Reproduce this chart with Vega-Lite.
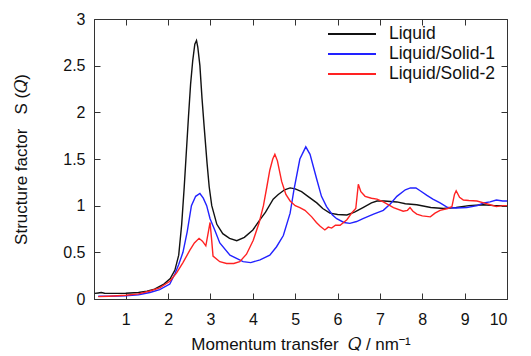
{
  "$schema": "https://vega.github.io/schema/vega-lite/v6.json",
  "width": 413,
  "height": 280,
  "autosize": "none",
  "padding": {"left": 94, "top": 19, "right": 24, "bottom": 57},
  "background": "white",
  "config": {
    "font": "Liberation Sans",
    "view": {"stroke": "#333333", "strokeWidth": 1},
    "axis": {
      "grid": false,
      "domainColor": "#333333",
      "tickColor": "#333333",
      "tickSize": -6,
      "labelFontSize": 16,
      "labelColor": "#111111",
      "titleFontSize": 17,
      "titleFontWeight": "normal",
      "titleColor": "#111111"
    }
  },
  "data": {
    "values": [
      {"series": "Liquid", "Q": 0.27, "S": 0.06},
      {"series": "Liquid", "Q": 0.35, "S": 0.065},
      {"series": "Liquid", "Q": 0.42, "S": 0.07},
      {"series": "Liquid", "Q": 0.5, "S": 0.062},
      {"series": "Liquid", "Q": 0.7, "S": 0.06},
      {"series": "Liquid", "Q": 1.0, "S": 0.062},
      {"series": "Liquid", "Q": 1.3, "S": 0.07},
      {"series": "Liquid", "Q": 1.5, "S": 0.085},
      {"series": "Liquid", "Q": 1.68, "S": 0.105},
      {"series": "Liquid", "Q": 1.9, "S": 0.16},
      {"series": "Liquid", "Q": 2.05, "S": 0.22},
      {"series": "Liquid", "Q": 2.16, "S": 0.31},
      {"series": "Liquid", "Q": 2.25, "S": 0.47},
      {"series": "Liquid", "Q": 2.32, "S": 0.8},
      {"series": "Liquid", "Q": 2.38, "S": 1.2},
      {"series": "Liquid", "Q": 2.42, "S": 1.5},
      {"series": "Liquid", "Q": 2.48, "S": 1.95},
      {"series": "Liquid", "Q": 2.53, "S": 2.3},
      {"series": "Liquid", "Q": 2.58, "S": 2.55},
      {"series": "Liquid", "Q": 2.63, "S": 2.73},
      {"series": "Liquid", "Q": 2.67, "S": 2.77},
      {"series": "Liquid", "Q": 2.7, "S": 2.7},
      {"series": "Liquid", "Q": 2.75, "S": 2.5},
      {"series": "Liquid", "Q": 2.8, "S": 2.15},
      {"series": "Liquid", "Q": 2.85, "S": 1.85},
      {"series": "Liquid", "Q": 2.92, "S": 1.45},
      {"series": "Liquid", "Q": 2.97, "S": 1.2},
      {"series": "Liquid", "Q": 3.03, "S": 1.0},
      {"series": "Liquid", "Q": 3.15, "S": 0.8},
      {"series": "Liquid", "Q": 3.29, "S": 0.7},
      {"series": "Liquid", "Q": 3.45, "S": 0.65},
      {"series": "Liquid", "Q": 3.62, "S": 0.625},
      {"series": "Liquid", "Q": 3.8, "S": 0.66},
      {"series": "Liquid", "Q": 4.0, "S": 0.74},
      {"series": "Liquid", "Q": 4.17, "S": 0.85},
      {"series": "Liquid", "Q": 4.3, "S": 0.93},
      {"series": "Liquid", "Q": 4.48, "S": 1.07},
      {"series": "Liquid", "Q": 4.6, "S": 1.12},
      {"series": "Liquid", "Q": 4.75, "S": 1.17},
      {"series": "Liquid", "Q": 4.88, "S": 1.19},
      {"series": "Liquid", "Q": 5.0, "S": 1.18},
      {"series": "Liquid", "Q": 5.15, "S": 1.15},
      {"series": "Liquid", "Q": 5.3, "S": 1.1},
      {"series": "Liquid", "Q": 5.51, "S": 1.03},
      {"series": "Liquid", "Q": 5.65, "S": 0.97},
      {"series": "Liquid", "Q": 5.82, "S": 0.92},
      {"series": "Liquid", "Q": 6.0, "S": 0.905},
      {"series": "Liquid", "Q": 6.22, "S": 0.9},
      {"series": "Liquid", "Q": 6.4, "S": 0.93},
      {"series": "Liquid", "Q": 6.6, "S": 0.98},
      {"series": "Liquid", "Q": 6.8, "S": 1.03},
      {"series": "Liquid", "Q": 6.93, "S": 1.05},
      {"series": "Liquid", "Q": 7.1, "S": 1.05},
      {"series": "Liquid", "Q": 7.4, "S": 1.04},
      {"series": "Liquid", "Q": 7.6, "S": 1.02},
      {"series": "Liquid", "Q": 7.87, "S": 1.01},
      {"series": "Liquid", "Q": 8.2, "S": 0.98},
      {"series": "Liquid", "Q": 8.5, "S": 0.97},
      {"series": "Liquid", "Q": 8.8, "S": 0.98},
      {"series": "Liquid", "Q": 9.1, "S": 1.0},
      {"series": "Liquid", "Q": 9.44, "S": 1.01},
      {"series": "Liquid", "Q": 9.7, "S": 1.0},
      {"series": "Liquid", "Q": 10.0, "S": 1.0},

      {"series": "Liquid/Solid-1", "Q": 0.35, "S": 0.03},
      {"series": "Liquid/Solid-1", "Q": 0.6, "S": 0.03},
      {"series": "Liquid/Solid-1", "Q": 1.0, "S": 0.035},
      {"series": "Liquid/Solid-1", "Q": 1.3, "S": 0.045},
      {"series": "Liquid/Solid-1", "Q": 1.57, "S": 0.07},
      {"series": "Liquid/Solid-1", "Q": 1.8, "S": 0.1},
      {"series": "Liquid/Solid-1", "Q": 2.04, "S": 0.16},
      {"series": "Liquid/Solid-1", "Q": 2.16, "S": 0.27},
      {"series": "Liquid/Solid-1", "Q": 2.25, "S": 0.37},
      {"series": "Liquid/Solid-1", "Q": 2.35, "S": 0.5},
      {"series": "Liquid/Solid-1", "Q": 2.45, "S": 0.72},
      {"series": "Liquid/Solid-1", "Q": 2.55, "S": 1.0},
      {"series": "Liquid/Solid-1", "Q": 2.65, "S": 1.1},
      {"series": "Liquid/Solid-1", "Q": 2.75, "S": 1.13},
      {"series": "Liquid/Solid-1", "Q": 2.83, "S": 1.08},
      {"series": "Liquid/Solid-1", "Q": 2.91, "S": 1.0},
      {"series": "Liquid/Solid-1", "Q": 2.99, "S": 0.86},
      {"series": "Liquid/Solid-1", "Q": 3.1, "S": 0.74},
      {"series": "Liquid/Solid-1", "Q": 3.22, "S": 0.6},
      {"series": "Liquid/Solid-1", "Q": 3.46, "S": 0.47},
      {"series": "Liquid/Solid-1", "Q": 3.77, "S": 0.4},
      {"series": "Liquid/Solid-1", "Q": 3.95, "S": 0.39},
      {"series": "Liquid/Solid-1", "Q": 4.17, "S": 0.42},
      {"series": "Liquid/Solid-1", "Q": 4.4, "S": 0.47},
      {"series": "Liquid/Solid-1", "Q": 4.56, "S": 0.56},
      {"series": "Liquid/Solid-1", "Q": 4.72, "S": 0.68},
      {"series": "Liquid/Solid-1", "Q": 4.88, "S": 0.92},
      {"series": "Liquid/Solid-1", "Q": 4.97, "S": 1.17},
      {"series": "Liquid/Solid-1", "Q": 5.11, "S": 1.5},
      {"series": "Liquid/Solid-1", "Q": 5.25, "S": 1.63},
      {"series": "Liquid/Solid-1", "Q": 5.35, "S": 1.55},
      {"series": "Liquid/Solid-1", "Q": 5.51, "S": 1.28},
      {"series": "Liquid/Solid-1", "Q": 5.62, "S": 1.1},
      {"series": "Liquid/Solid-1", "Q": 5.74, "S": 0.99},
      {"series": "Liquid/Solid-1", "Q": 5.88, "S": 0.9},
      {"series": "Liquid/Solid-1", "Q": 5.98, "S": 0.86},
      {"series": "Liquid/Solid-1", "Q": 6.15, "S": 0.82},
      {"series": "Liquid/Solid-1", "Q": 6.29, "S": 0.81},
      {"series": "Liquid/Solid-1", "Q": 6.45, "S": 0.83},
      {"series": "Liquid/Solid-1", "Q": 6.6, "S": 0.86},
      {"series": "Liquid/Solid-1", "Q": 6.85, "S": 0.91},
      {"series": "Liquid/Solid-1", "Q": 7.08, "S": 0.95},
      {"series": "Liquid/Solid-1", "Q": 7.25, "S": 1.02},
      {"series": "Liquid/Solid-1", "Q": 7.4, "S": 1.1},
      {"series": "Liquid/Solid-1", "Q": 7.6, "S": 1.17},
      {"series": "Liquid/Solid-1", "Q": 7.72, "S": 1.19},
      {"series": "Liquid/Solid-1", "Q": 7.85, "S": 1.19},
      {"series": "Liquid/Solid-1", "Q": 7.95, "S": 1.16},
      {"series": "Liquid/Solid-1", "Q": 8.11, "S": 1.11},
      {"series": "Liquid/Solid-1", "Q": 8.25, "S": 1.07},
      {"series": "Liquid/Solid-1", "Q": 8.42, "S": 1.03},
      {"series": "Liquid/Solid-1", "Q": 8.6, "S": 0.98},
      {"series": "Liquid/Solid-1", "Q": 8.8, "S": 0.975},
      {"series": "Liquid/Solid-1", "Q": 9.05, "S": 0.98},
      {"series": "Liquid/Solid-1", "Q": 9.3, "S": 1.0},
      {"series": "Liquid/Solid-1", "Q": 9.45, "S": 1.03},
      {"series": "Liquid/Solid-1", "Q": 9.6, "S": 1.04},
      {"series": "Liquid/Solid-1", "Q": 9.75, "S": 1.06},
      {"series": "Liquid/Solid-1", "Q": 9.9, "S": 1.05},
      {"series": "Liquid/Solid-1", "Q": 10.0, "S": 1.05},

      {"series": "Liquid/Solid-2", "Q": 0.35, "S": 0.025},
      {"series": "Liquid/Solid-2", "Q": 0.6, "S": 0.03},
      {"series": "Liquid/Solid-2", "Q": 1.0, "S": 0.04},
      {"series": "Liquid/Solid-2", "Q": 1.3, "S": 0.055},
      {"series": "Liquid/Solid-2", "Q": 1.57, "S": 0.086},
      {"series": "Liquid/Solid-2", "Q": 1.8, "S": 0.12},
      {"series": "Liquid/Solid-2", "Q": 2.04, "S": 0.19},
      {"series": "Liquid/Solid-2", "Q": 2.2, "S": 0.28},
      {"series": "Liquid/Solid-2", "Q": 2.35, "S": 0.39},
      {"series": "Liquid/Solid-2", "Q": 2.51, "S": 0.52},
      {"series": "Liquid/Solid-2", "Q": 2.62, "S": 0.6},
      {"series": "Liquid/Solid-2", "Q": 2.73, "S": 0.65},
      {"series": "Liquid/Solid-2", "Q": 2.81, "S": 0.62},
      {"series": "Liquid/Solid-2", "Q": 2.89, "S": 0.57},
      {"series": "Liquid/Solid-2", "Q": 2.95, "S": 0.72},
      {"series": "Liquid/Solid-2", "Q": 2.99, "S": 0.82},
      {"series": "Liquid/Solid-2", "Q": 3.03, "S": 0.62},
      {"series": "Liquid/Solid-2", "Q": 3.06, "S": 0.46},
      {"series": "Liquid/Solid-2", "Q": 3.22, "S": 0.4},
      {"series": "Liquid/Solid-2", "Q": 3.38, "S": 0.38},
      {"series": "Liquid/Solid-2", "Q": 3.55, "S": 0.38},
      {"series": "Liquid/Solid-2", "Q": 3.69, "S": 0.4},
      {"series": "Liquid/Solid-2", "Q": 3.85, "S": 0.48},
      {"series": "Liquid/Solid-2", "Q": 4.01, "S": 0.63},
      {"series": "Liquid/Solid-2", "Q": 4.15, "S": 0.82},
      {"series": "Liquid/Solid-2", "Q": 4.25, "S": 1.0},
      {"series": "Liquid/Solid-2", "Q": 4.33, "S": 1.2},
      {"series": "Liquid/Solid-2", "Q": 4.4, "S": 1.38},
      {"series": "Liquid/Solid-2", "Q": 4.47, "S": 1.5},
      {"series": "Liquid/Solid-2", "Q": 4.52, "S": 1.55},
      {"series": "Liquid/Solid-2", "Q": 4.58, "S": 1.48},
      {"series": "Liquid/Solid-2", "Q": 4.68, "S": 1.26},
      {"series": "Liquid/Solid-2", "Q": 4.78, "S": 1.12},
      {"series": "Liquid/Solid-2", "Q": 4.88, "S": 1.05},
      {"series": "Liquid/Solid-2", "Q": 5.0, "S": 1.0},
      {"series": "Liquid/Solid-2", "Q": 5.11, "S": 0.98},
      {"series": "Liquid/Solid-2", "Q": 5.23, "S": 0.95},
      {"series": "Liquid/Solid-2", "Q": 5.39, "S": 0.88},
      {"series": "Liquid/Solid-2", "Q": 5.5, "S": 0.82},
      {"series": "Liquid/Solid-2", "Q": 5.59, "S": 0.78},
      {"series": "Liquid/Solid-2", "Q": 5.7, "S": 0.74},
      {"series": "Liquid/Solid-2", "Q": 5.78, "S": 0.77},
      {"series": "Liquid/Solid-2", "Q": 5.86, "S": 0.76},
      {"series": "Liquid/Solid-2", "Q": 5.95, "S": 0.79},
      {"series": "Liquid/Solid-2", "Q": 6.06, "S": 0.79},
      {"series": "Liquid/Solid-2", "Q": 6.22, "S": 0.85},
      {"series": "Liquid/Solid-2", "Q": 6.35, "S": 0.93},
      {"series": "Liquid/Solid-2", "Q": 6.43, "S": 0.97},
      {"series": "Liquid/Solid-2", "Q": 6.49, "S": 1.23},
      {"series": "Liquid/Solid-2", "Q": 6.55, "S": 1.15},
      {"series": "Liquid/Solid-2", "Q": 6.65, "S": 1.1},
      {"series": "Liquid/Solid-2", "Q": 6.8, "S": 1.08},
      {"series": "Liquid/Solid-2", "Q": 6.93, "S": 1.07},
      {"series": "Liquid/Solid-2", "Q": 7.08, "S": 1.04},
      {"series": "Liquid/Solid-2", "Q": 7.32, "S": 0.98},
      {"series": "Liquid/Solid-2", "Q": 7.55, "S": 0.94},
      {"series": "Liquid/Solid-2", "Q": 7.65, "S": 0.95},
      {"series": "Liquid/Solid-2", "Q": 7.71, "S": 0.98},
      {"series": "Liquid/Solid-2", "Q": 7.78, "S": 0.94},
      {"series": "Liquid/Solid-2", "Q": 7.87, "S": 0.91},
      {"series": "Liquid/Solid-2", "Q": 8.0, "S": 0.89},
      {"series": "Liquid/Solid-2", "Q": 8.19, "S": 0.88},
      {"series": "Liquid/Solid-2", "Q": 8.3, "S": 0.92},
      {"series": "Liquid/Solid-2", "Q": 8.42, "S": 0.95},
      {"series": "Liquid/Solid-2", "Q": 8.6, "S": 0.97},
      {"series": "Liquid/Solid-2", "Q": 8.7, "S": 0.99},
      {"series": "Liquid/Solid-2", "Q": 8.76, "S": 1.12},
      {"series": "Liquid/Solid-2", "Q": 8.8, "S": 1.16},
      {"series": "Liquid/Solid-2", "Q": 8.88, "S": 1.09},
      {"series": "Liquid/Solid-2", "Q": 8.97, "S": 1.06},
      {"series": "Liquid/Solid-2", "Q": 9.1, "S": 1.055},
      {"series": "Liquid/Solid-2", "Q": 9.29, "S": 1.05},
      {"series": "Liquid/Solid-2", "Q": 9.45, "S": 1.03},
      {"series": "Liquid/Solid-2", "Q": 9.6, "S": 1.01},
      {"series": "Liquid/Solid-2", "Q": 9.75, "S": 0.99},
      {"series": "Liquid/Solid-2", "Q": 9.9, "S": 1.0},
      {"series": "Liquid/Solid-2", "Q": 10.0, "S": 1.0}
    ]
  },
  "layer": [
    {
      "mark": {"type": "line", "opacity": 0},
      "encoding": {
        "x": {"field": "Q", "type": "quantitative", "scale": {"domain": [0.25, 10], "nice": false, "zero": false},
              "axis": {"orient": "top", "labels": false, "title": null, "values": [1,2,3,4,5,6,7,8,9,10], "domain": false}},
        "y": {"field": "S", "type": "quantitative", "scale": {"domain": [0, 3], "nice": false},
              "axis": {"orient": "right", "labels": false, "title": null, "values": [0,0.5,1,1.5,2,2.5,3], "domain": false}},
        "detail": {"field": "series"}
      }
    },
    {
      "mark": {"type": "line", "strokeWidth": 1.4, "clip": true},
      "encoding": {
        "x": {"field": "Q", "type": "quantitative", "scale": {"domain": [0.25, 10], "nice": false, "zero": false},
              "axis": {"orient": "bottom", "title": "Momentum transfer\u00a0\u00a0𝑄\u00a0/\u00a0nm⁻¹", "values": [1,2,3,4,5,6,7,8,9,10],
                       "labelPadding": 18, "titlePadding": 9}},
        "y": {"field": "S", "type": "quantitative", "scale": {"domain": [0, 3], "nice": false},
              "axis": {"orient": "left", "title": "Structure factor\u00a0\u00a0\u00a0S\u00a0(𝑄)", "values": [0,0.5,1,1.5,2,2.5,3],
                       "format": "~g", "labelPadding": 15, "titlePadding": 32}},
        "color": {"field": "series", "type": "nominal",
                  "scale": {"domain": ["Liquid", "Liquid/Solid-1", "Liquid/Solid-2"], "range": ["#111111", "#2222ff", "#ff2222"]},
                  "legend": {"title": null, "orient": "none", "legendX": 233, "legendY": 7,
                             "symbolType": "stroke", "symbolSize": 2304, "symbolStrokeWidth": 2, "clipHeight": 16,
                             "labelFontSize": 17.5, "labelColor": "#111111", "rowPadding": 2, "labelOffset": 12}}
      }
    }
  ],
  "resolve": {"axis": {"x": "independent", "y": "independent"}}
}
